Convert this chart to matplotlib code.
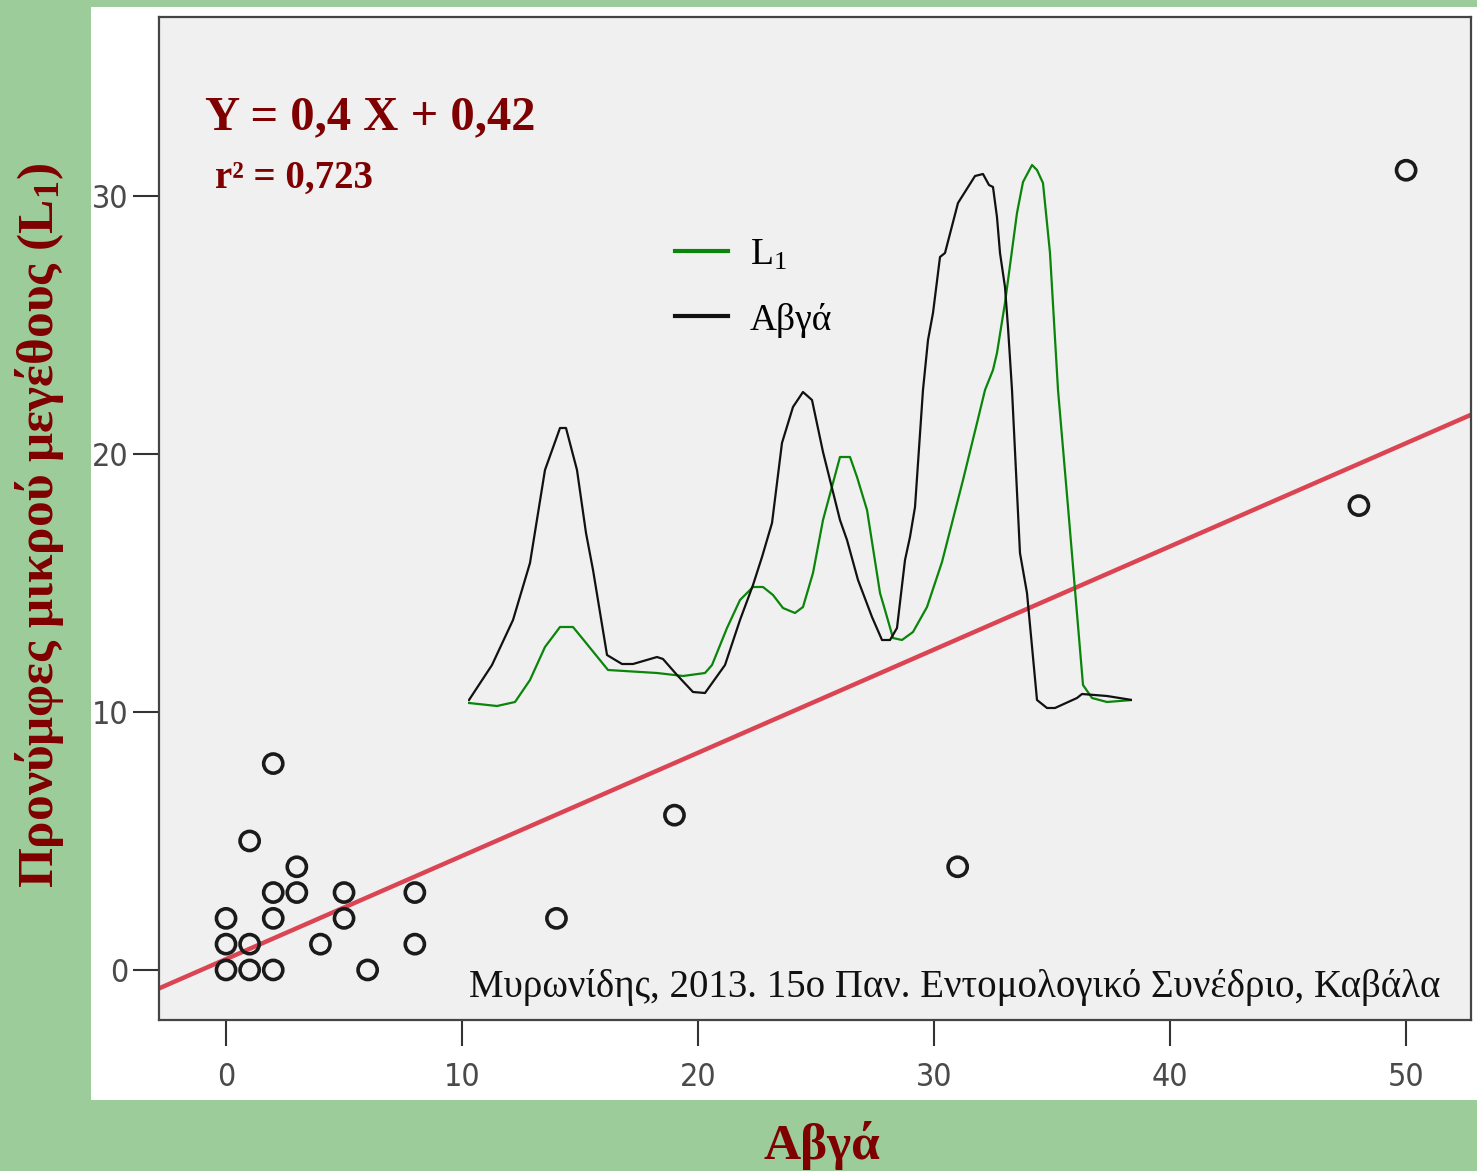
import matplotlib
matplotlib.use("Agg")
import matplotlib.pyplot as plt
from matplotlib.patches import Rectangle

plt.rcParams['mathtext.fontset'] = 'custom'
plt.rcParams['mathtext.rm'] = 'Liberation Serif'
plt.rcParams['mathtext.bf'] = 'Liberation Serif:bold'
plt.rcParams['mathtext.it'] = 'Liberation Serif:italic'

# ---- scatter data: Αβγά (x) vs L1 larvae (y)
eggs = [0, 0, 0, 1, 1, 1, 2, 2, 2, 2, 3, 3, 4, 5, 5, 6, 8, 8, 14, 19, 31, 48, 50]
larvae = [0, 1, 2, 0, 1, 5, 0, 2, 3, 8, 3, 4, 1, 2, 3, 0, 3, 1, 2, 6, 4, 18, 31]

slope = 0.4
intercept = 0.42
eq_text = "Y = 0,4 X + 0,42"
r2_text = "r² = 0,723"

x_ticks = [0, 10, 20, 30, 40, 50]
y_ticks = [0, 10, 20, 30]

# ---- inset time series (relative units)
black_t = [0.021, 0.506, 0.949, 1.307, 1.623, 1.940, 2.066, 2.298, 2.488, 2.636, 2.931, 3.247,
           3.479, 3.985, 4.111, 4.407, 4.744, 4.997, 5.419, 5.735, 6.009, 6.199, 6.410, 6.620,
           6.852, 7.063, 7.253, 7.485, 7.843, 7.991, 8.223, 8.518, 8.729, 8.898, 9.045, 9.214,
           9.319, 9.425, 9.593, 9.699, 9.804, 9.952, 10.057, 10.331, 10.690, 10.858, 10.985,
           11.069, 11.153, 11.217, 11.322, 11.385, 11.470, 11.638, 11.786, 11.997, 12.208,
           12.376, 12.840, 12.946, 13.473, 14.000]
black_v = [2.0, 5.5, 10.0, 15.7, 25.0, 29.2, 29.2, 25.0, 18.7, 15.0, 6.5, 5.6,
           5.6, 6.3, 6.1, 4.5, 2.8, 2.7, 5.5, 10.0, 13.5, 16.3, 19.7, 27.7,
           31.3, 32.8, 32.0, 26.8, 20.0, 18.0, 14.0, 10.3, 8.0, 8.0, 9.2, 16.0,
           18.3, 21.3, 33.0, 38.0, 40.7, 46.3, 46.7, 51.7, 54.4, 54.6, 53.5,
           53.3, 50.3, 46.7, 43.3, 39.3, 33.0, 16.7, 12.7, 2.0, 1.2,
           1.2, 2.2, 2.6, 2.4, 2.0]
green_t = [0.021, 0.611, 0.991, 1.307, 1.623, 1.940, 2.214, 2.404, 2.952, 3.985, 4.533, 4.997,
           5.145, 5.461, 5.735, 6.009, 6.220, 6.431, 6.641, 6.894, 7.063, 7.274, 7.485, 7.843,
           8.054, 8.202, 8.413, 8.687, 8.792, 8.961, 9.150, 9.382, 9.678, 9.994, 10.437, 10.732,
           10.901, 11.069, 11.153, 11.322, 11.575, 11.702, 11.892, 11.997, 12.123, 12.271,
           12.440, 12.651, 12.967, 13.157, 13.473, 14.000]
green_v = [1.7, 1.4, 1.8, 4.0, 7.3, 9.3, 9.3, 8.2, 5.0, 4.7, 4.4, 4.7,
           5.5, 9.2, 12.0, 13.3, 13.3, 12.5, 11.2, 10.7, 11.3, 14.7, 20.0, 26.3,
           26.3, 24.3, 21.0, 12.7, 11.0, 8.2, 8.0, 8.8, 11.3, 15.8, 24.0, 29.7,
           33.0, 35.0, 36.7, 41.7, 50.7, 53.8, 55.5, 55.0, 53.7, 46.7,
           33.0, 21.3, 3.5, 2.2, 1.8, 2.0]

DARKRED = '#7f0000'
W, H = 1477, 1171
fig = plt.figure(figsize=(W / 100, H / 100), dpi=100)
fig.patch.set_facecolor('#9bcc9a')

# white panel
fig.patches.append(Rectangle((91 / W, 1 - 1100 / H), 1 - 91 / W, (1100 - 7) / H,
                             transform=fig.transFigure, facecolor='white', edgecolor='none',
                             zorder=-10))

ax = fig.add_axes([159 / W, 1 - 1020 / H, (1471 - 159) / W, (1020 - 17) / H])
ax.set_facecolor('#f0f0f0')
ax.set_xlim(-2.84, 52.75)
ax.set_ylim(-1.94, 36.94)

xs = [-2.84, 52.75]
ax.plot(xs, [slope * v + intercept for v in xs], color='#db4452', lw=3.2, zorder=2)
ax.scatter(eggs, larvae, s=190, facecolors='none', edgecolors='#1a1a1a', linewidths=2.6, zorder=3)

ax.set_xticks(x_ticks)
ax.set_yticks(y_ticks)
for lab in ax.get_xticklabels() + ax.get_yticklabels():
    lab.set_family('DejaVu Sans')
    lab.set_fontstretch('condensed')
ax.tick_params(axis='both', direction='out', length=19, width=1.5, color='#333333',
               labelsize=23, labelcolor='#4a4a4a')
ax.tick_params(axis='x', pad=11)
ax.tick_params(axis='y', pad=3)
for sp in ax.spines.values():
    sp.set_color('#444444')
    sp.set_linewidth(1.6)

ax.text(205 / W, 1 - 117 / H, eq_text, transform=fig.transFigure, color=DARKRED,
        fontsize=35, fontweight='bold', family='Liberation Serif', va='center', ha='left')
ax.text(215 / W, 1 - 178 / H, r2_text, transform=fig.transFigure, color=DARKRED,
        fontsize=28, fontweight='bold', family='Liberation Serif', va='center', ha='left')
ax.text(1440 / W, 1 - 988 / H, "Μυρωνίδης, 2013. 15ο Παν. Εντομολογικό Συνέδριο, Καβάλα",
        transform=fig.transFigure, color='#111111', fontsize=28, family='Liberation Serif',
        va='center', ha='right')

fig.text(40 / W, 1 - 525 / H, r"Προνύμφες μικρού μεγέθους ($\mathbf{L_1}$)", rotation=90,
         color=DARKRED, fontsize=37, fontweight='bold', family='Liberation Serif',
         va='center', ha='center')
fig.text(822 / W, 1 - 1145 / H, "Αβγά", color=DARKRED, fontsize=37, fontweight='bold',
         family='Liberation Serif', va='center', ha='center')

# inset time series
ins = fig.add_axes([468 / W, 1 - 720 / H, (1132 - 468) / W, (720 - 160) / H])
ins.set_xlim(0, 14)
ins.set_ylim(0, 56)
ins.axis('off')
ins.patch.set_alpha(0)
lg, = ins.plot(green_t, green_v, color='#0a850a', lw=1.6)
lb, = ins.plot(black_t, black_v, color='#111111', lw=1.6)
fig.legend([lg, lb], [r"L$_1$", "Αβγά"], loc='upper left',
           bbox_to_anchor=(675 / W, 1 - 238 / H), frameon=False,
           prop={'family': 'Liberation Serif', 'size': 27},
           handlelength=1.4, handletextpad=0.6, labelspacing=0.8,
           borderpad=0, borderaxespad=0)
for line in fig.legends[0].get_lines():
    line.set_linewidth(3)

fig.savefig('out.png', dpi=100, facecolor=fig.get_facecolor())
